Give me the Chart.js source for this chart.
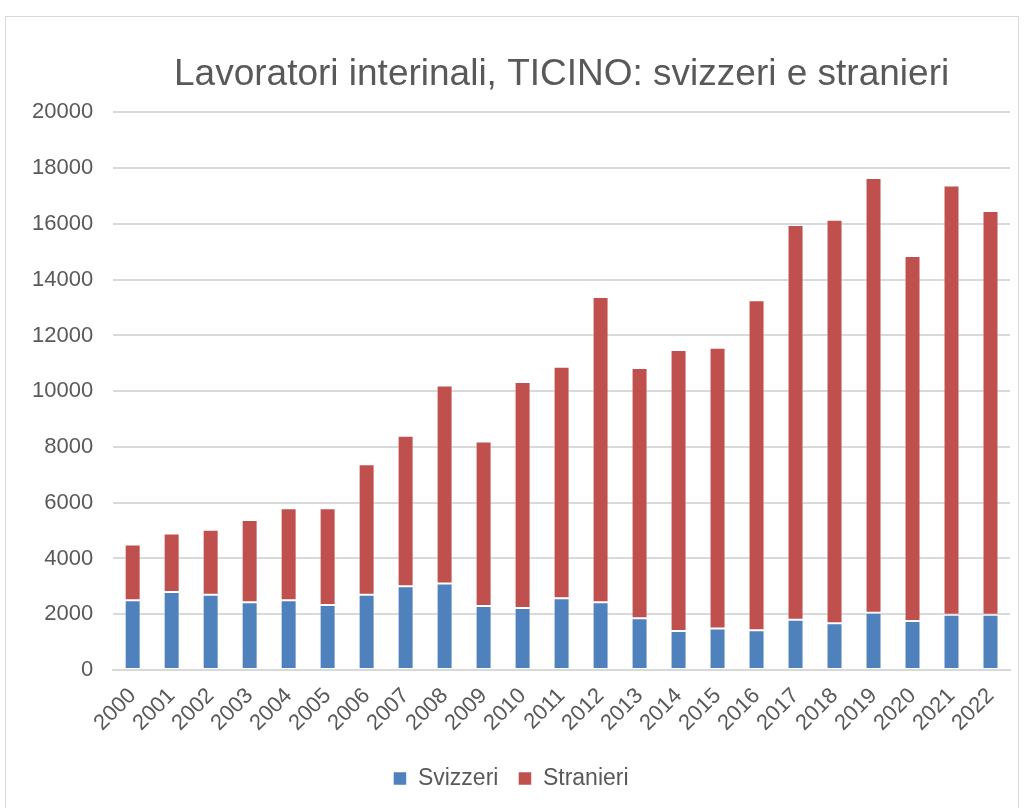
<!DOCTYPE html>
<html>
<head>
<meta charset="utf-8">
<script src="https://cdn.jsdelivr.net/npm/chart.js@4.4.1/dist/chart.umd.min.js"></script>
<style>
  html, body { margin: 0; padding: 0; background: #fff; }
  #frame {
    position: absolute; left: 5px; top: 16px; width: 1014px; height: 820px;
    border: 1px solid #d9d9d9; box-sizing: border-box;
  }
  #wrap { position: absolute; left: 0; top: 0; width: 1024px; height: 808px; }
</style>
</head>
<body>
<div id="frame"></div>
<div id="wrap"><canvas id="chart" width="1024" height="808"></canvas></div>
<script>
const years = ["2000", "2001", "2002", "2003", "2004", "2005", "2006", "2007", "2008", "2009", "2010", "2011",
    "2012", "2013", "2014", "2015", "2016", "2017", "2018", "2019", "2020", "2021", "2022"];
const svizzeri = [2500, 2800, 2700, 2430, 2500, 2330, 2700, 3000, 3100, 2300, 2220, 2570,
    2430, 1860, 1400, 1490, 1430, 1800, 1680, 2050, 1760, 1980, 1980];
const stranieri = [2000, 2100, 2330, 2950, 3300, 3470, 4680, 5400, 7100, 5900, 8110, 8310,
    10950, 8970, 10080, 10070, 11830, 14160, 14470, 15600, 13090, 15400, 14480];
const yTicks = [0, 2000, 4000, 6000, 8000, 10000, 12000, 14000, 16000, 18000, 20000];

const fontFamily = "'Liberation Sans', Arial, sans-serif";
const textColor = "#595959";
const gridColor = "#d9d9d9";

const ctx = document.getElementById("chart").getContext("2d");
new Chart(ctx, {
    type: "bar",
    data: {
        labels: years,
        datasets: [
            {
                label: "Svizzeri",
                data: svizzeri,
                backgroundColor: "#4f81bd",
                borderColor: "rgba(255,255,255,0.5)",
                borderWidth: 1,
                borderSkipped: false
            },
            {
                label: "Stranieri",
                data: stranieri,
                backgroundColor: "#c0504d",
                borderColor: "rgba(255,255,255,0.5)",
                borderWidth: 1,
                borderSkipped: false
            }
        ]
    },
    options: {
        responsive: false,
        animation: false,
        layout: { padding: { left: 12, right: 14, top: 53, bottom: 8 } },
        datasets: { bar: { barPercentage: 0.41, categoryPercentage: 1.0 } },
        scales: {
            x: {
                stacked: true,
                grid: { display: false, drawTicks: false },
                border: { display: true, color: gridColor, width: 2 },
                ticks: {
                    color: textColor,
                    font: { family: fontFamily, size: 22 },
                    minRotation: 45,
                    maxRotation: 45,
                    autoSkip: false,
                    padding: 13
                },
                // fixed height so the legend sits where it does in the original
                afterFit: (axis) => { axis.height = 77; }
            },
            y: {
                stacked: true,
                min: 0,
                max: 20000,
                afterBuildTicks: (axis) => { axis.ticks = yTicks.map(v => ({ value: v })); },
                grid: { color: gridColor, lineWidth: 2, drawTicks: false },
                border: { display: false },
                ticks: {
                    color: textColor,
                    font: { family: fontFamily, size: 22 },
                    padding: 20,
                    callback: (v) => String(v)
                }
            }
        },
        plugins: {
            title: {
                display: true,
                text: "Lavoratori interinali, TICINO: svizzeri e stranieri",
                color: textColor,
                fullSize: false,
                font: { family: fontFamily, size: 37, weight: "normal" },
                padding: { top: 0, bottom: 15 }
            },
            legend: {
                position: "bottom",
                labels: {
                    color: textColor,
                    font: { family: fontFamily, size: 23 },
                    boxWidth: 13,
                    boxHeight: 13,
                    padding: 20
                }
            },
            tooltip: { enabled: false }
        }
    }
});
</script>
</body>
</html>
